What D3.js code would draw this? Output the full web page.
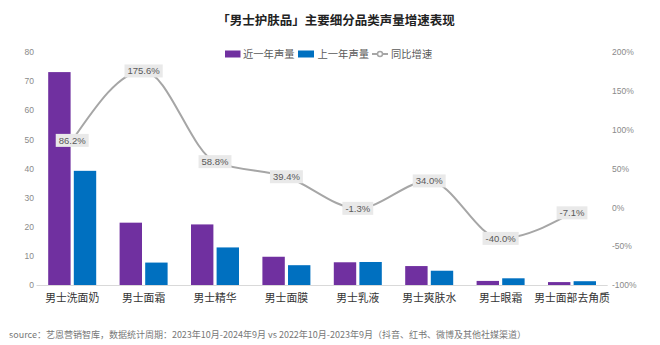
<!DOCTYPE html>
<html><head><meta charset="utf-8">
<script src="https://cdn.jsdelivr.net/npm/d3@7"></script>
<style>
body{margin:0;background:#fff;}
svg{display:block;font-family:"Noto Sans CJK SC","Noto Sans",sans-serif;}
</style></head>
<body><svg id="c" width="660" height="345"></svg>
<script>
const categories = ["男士洗面奶","男士面霜","男士精华","男士面膜","男士乳液","男士爽肤水","男士眼霜","男士面部去角质"];
const recentVolume = [73.1, 21.4, 20.8, 9.7, 7.8, 6.5, 1.4, 1.0];
const lastVolume = [39.2, 7.7, 12.9, 6.8, 7.9, 4.9, 2.3, 1.3];
const growth = [86.2, 175.6, 58.8, 39.4, -1.3, 34.0, -40.0, -7.1];
const leftTicks = [0,10,20,30,40,50,60,70,80];
const rightTicks = [-100,-50,0,50,100,150,200];
const seriesNames = ["近一年声量","上一年声量","同比增速"];

const svg = d3.select("#c");
const purple = "#7030A0", blue = "#0070C0", grey = "#a6a6a6";
const x0 = 36.5, x1 = 607.7, yTop = 52, yBot = 285;

const x = d3.scaleBand().domain(categories).range([x0, x1]).paddingInner(0).paddingOuter(0);
const xi = d3.scaleBand().domain([0,1]).range([0, 48]).paddingInner(0.125);
const yL = d3.scaleLinear().domain([0,80]).range([yBot, yTop]);
const yR = d3.scaleLinear().domain([-100,200]).range([yBot, yTop]);

// title
svg.append("text").attr("x", 336).attr("y", 25).attr("text-anchor","middle")
  .attr("font-size", 12.5).attr("font-weight", "bold").attr("fill", "#222")
  .text("「男士护肤品」主要细分品类声量增速表现");

// left axis
const la = svg.append("g").attr("transform", `translate(34,0)`)
  .call(d3.axisLeft(yL).tickValues(leftTicks).tickSize(0).tickPadding(0));
la.select(".domain").remove();
la.selectAll("text").attr("font-size", 8.5).attr("fill", "#8a8a8a").attr("font-family","Liberation Sans, Arial, sans-serif");

// right axis
const ra = svg.append("g").attr("transform", `translate(612,0)`)
  .call(d3.axisRight(yR).tickValues(rightTicks).tickSize(0).tickPadding(0).tickFormat(d => d + "%"));
ra.select(".domain").remove();
ra.selectAll("text").attr("font-size", 8.5).attr("fill", "#8a8a8a").attr("font-family","Liberation Sans, Arial, sans-serif");

// baseline
svg.append("line").attr("x1", x0).attr("x2", x1).attr("y1", yBot + 0.5).attr("y2", yBot + 0.5)
  .attr("stroke", "#d9d9d9").attr("stroke-width", 1);

// bars
const groups = svg.append("g").selectAll("g").data(categories).join("g")
  .attr("transform", d => `translate(${x(d) + (x.bandwidth() - 48) / 2},0)`);
groups.append("rect")
  .attr("x", xi(0)).attr("width", xi.bandwidth())
  .attr("y", (d,i) => yL(recentVolume[i])).attr("height", (d,i) => yBot - yL(recentVolume[i]))
  .attr("fill", purple);
groups.append("rect")
  .attr("x", xi(1)).attr("width", xi.bandwidth())
  .attr("y", (d,i) => yL(lastVolume[i])).attr("height", (d,i) => yBot - yL(lastVolume[i]))
  .attr("fill", blue);

// x labels
svg.append("g").selectAll("text").data(categories).join("text")
  .attr("x", d => x(d) + x.bandwidth() / 2).attr("y", 302)
  .attr("text-anchor", "middle").attr("font-size", 10.8).attr("fill", "#333")
  .text(d => d);

// line
const pts = categories.map((c,i) => [x(c) + x.bandwidth() / 2, yR(growth[i])]);
svg.append("path").attr("d", d3.line().curve(d3.curveMonotoneX)(pts))
  .attr("fill", "none").attr("stroke", grey).attr("stroke-width", 2);

// labels
const lab = svg.append("g").selectAll("g").data(growth).join("g")
  .attr("transform", (d,i) => `translate(${pts[i][0]},${pts[i][1]})`);
lab.each(function(d) {
  const g = d3.select(this);
  const t = g.append("text").attr("text-anchor","middle").attr("dy", "0.35em")
    .attr("font-size", 9.5).attr("fill", "#595959").attr("font-family","Liberation Sans, Arial, sans-serif")
    .text(d.toFixed(1) + "%");
  const w = t.node().getComputedTextLength();
  g.insert("rect", "text").attr("x", -w/2 - 3).attr("y", -6.5).attr("width", w + 6).attr("height", 13)
    .attr("fill", "#e9e9e9");
});

// legend
const lg = svg.append("g").attr("font-size", 10.3);
lg.append("rect").attr("x", 225).attr("y", 50.5).attr("width", 15.5).attr("height", 7).attr("fill", purple);
lg.append("text").attr("x", 243).attr("y", 58).attr("fill","#595959").text(seriesNames[0]);
lg.append("rect").attr("x", 298).attr("y", 50.5).attr("width", 16).attr("height", 7).attr("fill", blue);
lg.append("text").attr("x", 317.5).attr("y", 58).attr("fill","#595959").text(seriesNames[1]);
lg.append("line").attr("x1", 372).attr("x2", 388).attr("y1", 54).attr("y2", 54).attr("stroke", grey).attr("stroke-width", 2);
lg.append("circle").attr("cx", 380).attr("cy", 54).attr("r", 2.5).attr("fill", "#fff").attr("stroke", grey).attr("stroke-width", 1.5);
lg.append("text").attr("x", 391).attr("y", 58).attr("fill","#595959").text(seriesNames[2]);

// source
svg.append("text").attr("x", 9).attr("y", 338).attr("font-size", 9).attr("fill", "#777")
  .text("source：艺恩营销智库，数据统计周期：2023年10月-2024年9月 vs 2022年10月-2023年9月（抖音、红书、微博及其他社媒渠道）");
</script></body></html>
